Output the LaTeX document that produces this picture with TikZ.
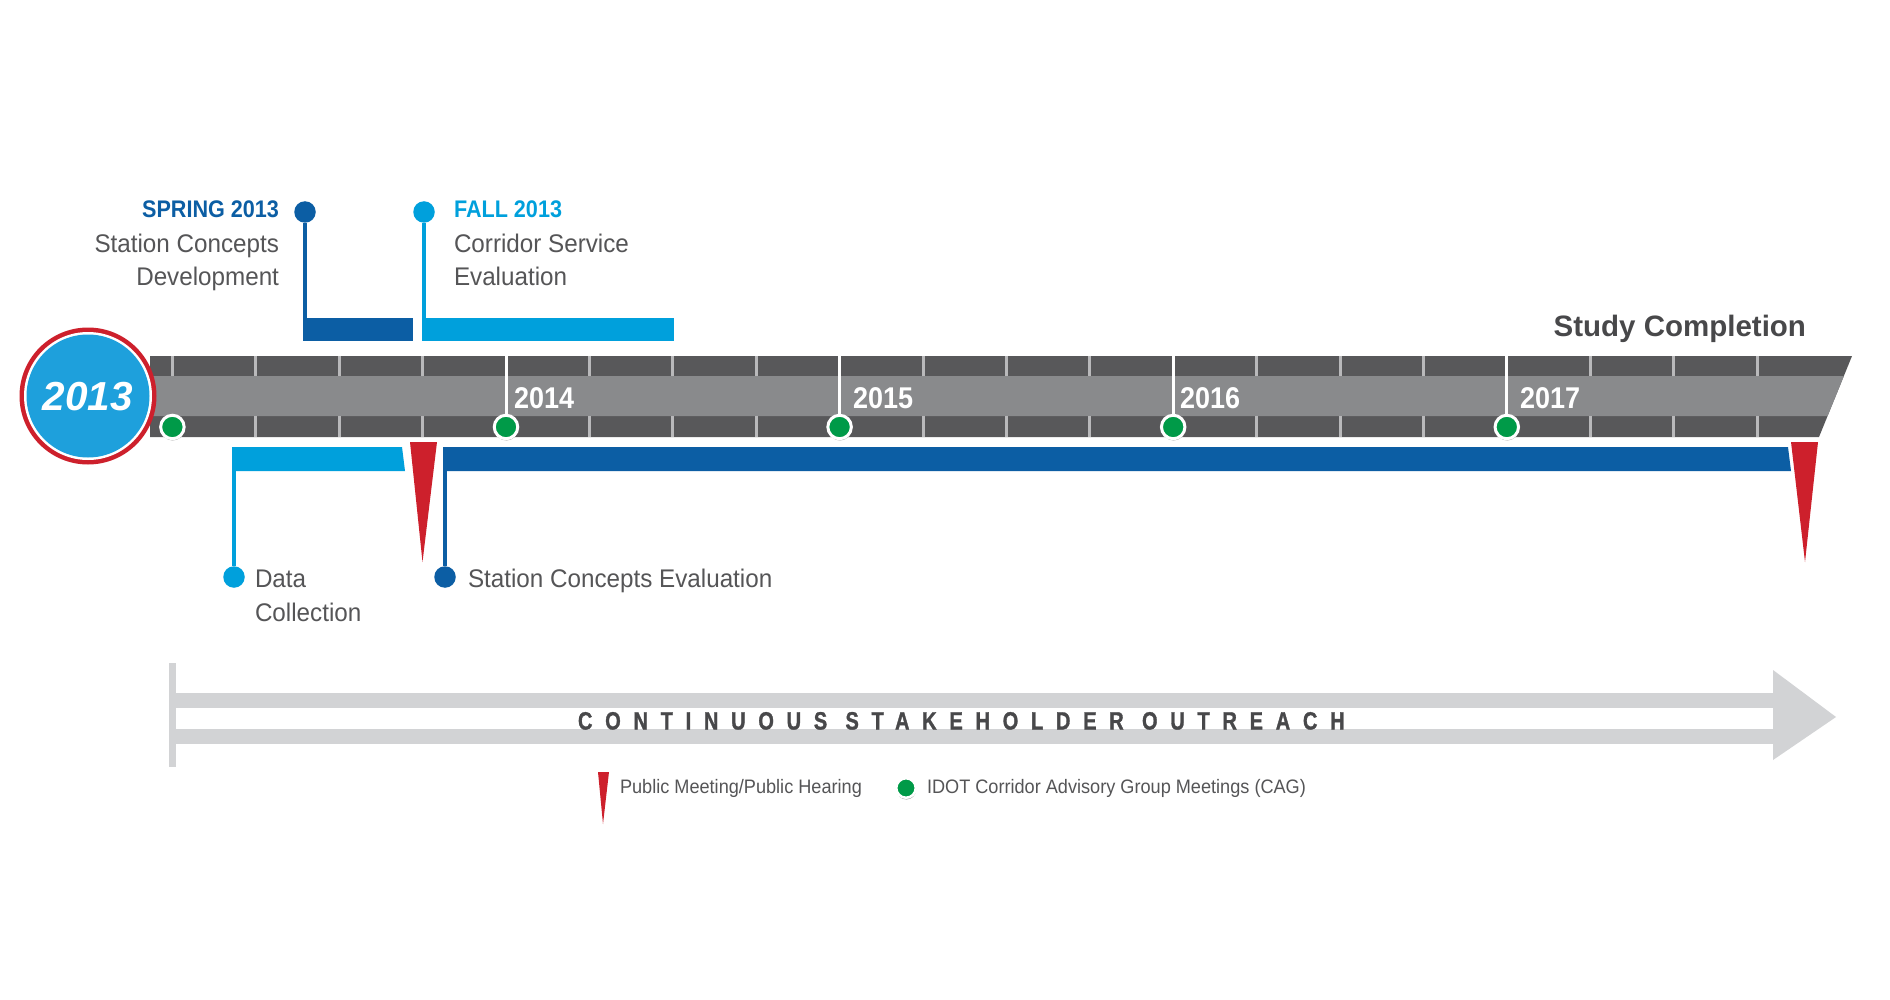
\documentclass[tikz,border=0pt]{standalone}
\usepackage{fontspec}
\setmainfont{Liberation Sans}
\newfontfamily\bodyf[FakeStretch=0.95]{Liberation Sans}
\newfontfamily\legf[FakeStretch=0.93]{Liberation Sans}
\newfontfamily\headf[FakeStretch=0.9]{Liberation Sans}
\newfontfamily\yearf[FakeStretch=0.9]{Liberation Sans}
\newfontfamily\outf[FakeStretch=0.8,LetterSpace=51,FakeBold=1.2]{Liberation Sans Bold}
\usetikzlibrary{shadows}
\definecolor{dblue}{RGB}{12,94,164}
\definecolor{lblue}{RGB}{0,160,220}
\definecolor{cblue}{RGB}{30,160,220}
\definecolor{mred}{RGB}{205,32,44}
\definecolor{mgreen}{RGB}{0,154,72}
\definecolor{darkband}{RGB}{88,88,90}
\definecolor{midband}{RGB}{137,138,140}
\definecolor{tickc}{RGB}{185,185,187}
\definecolor{ogray}{RGB}{210,211,213}
\definecolor{txt}{RGB}{85,85,87}
\definecolor{txtd}{RGB}{72,72,74}
\begin{document}
\begin{tikzpicture}[x=1pt,y=-1pt,
  every node/.style={inner sep=0pt, outer sep=0pt},
  body/.style={font=\bodyf\fontsize{25.5}{30}\selectfont, text=txt},
  head/.style={font=\headf\bfseries\fontsize{24}{28}\selectfont},
  yearlbl/.style={font=\yearf\bfseries\fontsize{30}{34}\selectfont, text=white, anchor=base west},
  legend/.style={font=\legf\fontsize{19.5}{23}\selectfont, text=txt, anchor=base west},
  pin/.style={circle, minimum size=21.5pt},
  gdot/.style={circle, fill=mgreen, draw=white, line width=3pt, minimum size=23.5pt,
    drop shadow={shadow xshift=0.3pt, shadow yshift=-1.8pt, opacity=0.35, fill=black}},
  gdotsmall/.style={gdot, minimum size=19.5pt, line width=2.5pt},
  conn/.style={line width=4pt},
  ticks/.style={draw=tickc, line width=3pt},
  yearline/.style={draw=white, line width=3pt},
  barbox/.style={minimum height=23pt, anchor=north west},
]
\fill[white] (0,0) rectangle (1890,1000);
\useasboundingbox (0,0) rectangle (1890,1000);

% timeline bar
\fill[darkband] (150,356) -- (1852,356) -- (1819,437) -- (150,437) -- cycle;
\fill[midband] (150,376) -- (1843.85,376) -- (1827.56,416) -- (150,416) -- cycle;
\foreach \k in {0,...,19}{
  \pgfmathsetmacro\tx{172.4+83.4*\k}
  \draw[ticks] (\tx,356) -- (\tx,376);
  \draw[ticks] (\tx,416) -- (\tx,437);
}

% 2013 circle
\fill[mred] (88,396) circle (68.5pt);
\fill[white] (88,396) circle (64pt);
\fill[cblue] (88,396) circle (61.5pt);
\node[font=\bfseries\itshape\fontsize{40.5}{44}\selectfont, text=white] (c2013) at (88,397) {2013};

% CAG dots and year lines
\node[gdot] (g13) at (172.4,427) {};
\foreach \n/\x/\lx/\yr in {g14/506/514/2014, g15/839.6/853/2015, g16/1173.2/1180/2016, g17/1506.8/1520/2017}{
  \coordinate (\n top) at (\x,356);
  \draw[yearline] (\n top) -- (\x,427);
  \node[gdot] (\n) at (\x,427) {};
  \node[yearlbl] (\n lbl) at (\lx,408) {\yr};
}

\node[font=\bfseries\fontsize{29.5}{34}\selectfont, text=txtd, anchor=base east] (study) at (1806,337) {Study Completion};

% Spring 2013
\node[pin, fill=dblue] (sprdot) at (305,212) {};
\node[barbox, fill=dblue, minimum width=110pt] (sprbar) at (303,318) {};
\draw[conn, dblue] (sprdot) -- (sprdot |- sprbar.north);
\node[head, text=dblue, anchor=base east] (spr1) at (279,218) {SPRING 2013};
\node[body, anchor=base east] (spr2) at (279,253) {Station Concepts};
\node[body, anchor=base east] (spr3) at (279,286) {Development};

% Fall 2013
\node[pin, fill=lblue] (faldot) at (424,212) {};
\node[barbox, fill=lblue, minimum width=252pt] (falbar) at (422,318) {};
\draw[conn, lblue] (faldot) -- (faldot |- falbar.north);
\node[head, text=lblue, anchor=base west] (fal1) at (454,218) {FALL 2013};
\node[body, anchor=base west] (fal2) at (454,253) {Corridor Service};
\node[body, anchor=base west] (fal3) at (454,286) {Evaluation};

% Data collection
\fill[lblue] (232,447) -- (402,447) -- (405,471) -- (232,471) -- cycle;
\coordinate (datbar) at (234,471);
\node[pin, fill=lblue] (datdot) at (234,577) {};
\draw[conn, lblue] (datbar) -- (datdot);
\node[body, anchor=base west] (dat1) at (255,587) {Data};
\node[body, anchor=base west] (dat2) at (255,621) {Collection};

% public meeting 1
\fill[mred] (410,442) -- (437,442) -- (422.5,562) -- cycle;

% Station concepts evaluation
\fill[dblue] (443,447) -- (1788,447) -- (1791,471) -- (443,471) -- cycle;
\coordinate (scebar) at (445,471);
\node[pin, fill=dblue] (scedot) at (445,577) {};
\draw[conn, dblue] (scebar) -- (scedot);
\node[body, anchor=base west] (sce) at (468,587) {Station Concepts Evaluation};

% public meeting 2
\fill[mred] (1791,442) -- (1818,442) -- (1805,562) -- cycle;

% outreach arrow
\fill[ogray] (169,663) rectangle (176,767);
\fill[ogray] (172,693) rectangle (1774,708);
\fill[ogray] (172,729) rectangle (1774,744);
\fill[ogray] (1773,670) -- (1836,717) -- (1773,760) -- cycle;
\node[font=\outf\fontsize{25}{28}\selectfont, text=txtd, anchor=base west] (outr) at (578,729.5) {CONTINUOUS STAKEHOLDER OUTREACH};

% legend
\fill[mred] (598,772) -- (609,772) -- (603,824) -- cycle;
\node[legend] (leg1) at (620,793) {Public Meeting/Public Hearing};
\node[gdotsmall] (legdot) at (906,788) {};
\node[legend] (leg2) at (927,793) {IDOT Corridor Advisory Group Meetings (CAG)};
\end{tikzpicture}
\end{document}
